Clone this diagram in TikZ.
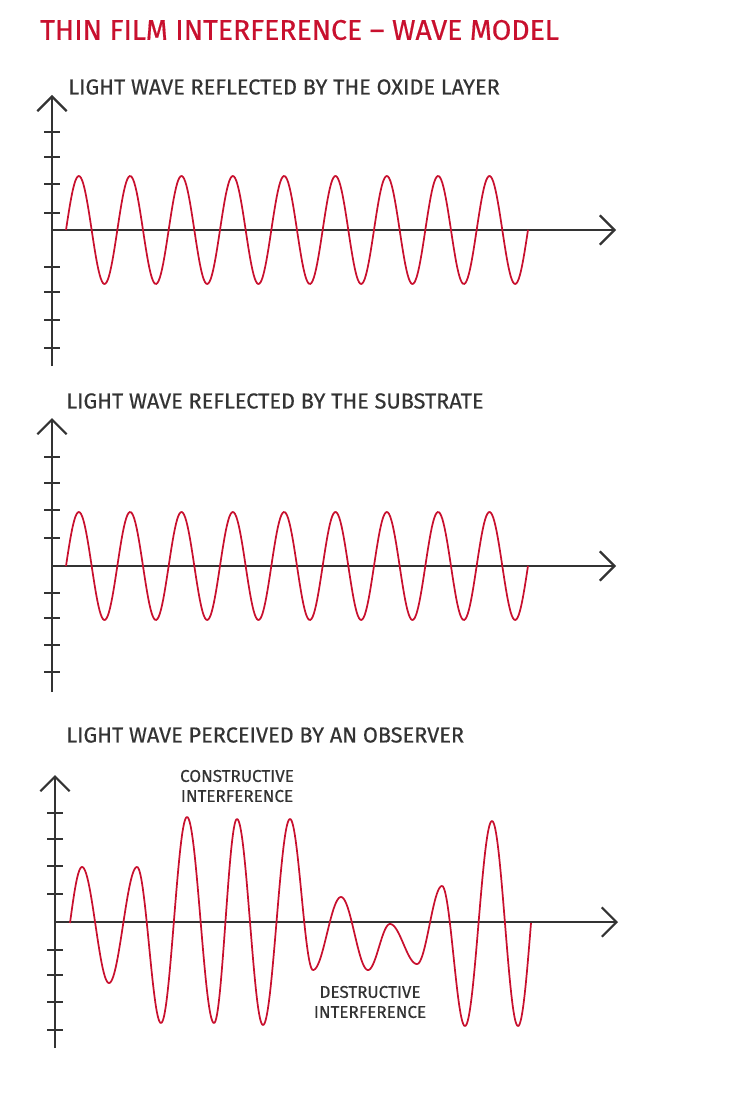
\documentclass[tikz,border=0pt]{standalone}
\usepackage{fontspec}
\setmainfont{Fira Sans}
\newfontfamily\medfont[FakeBold=0.5]{Fira Sans}
\usetikzlibrary{arrows.meta}
\definecolor{wred}{HTML}{C8102E}
\definecolor{ax}{HTML}{333333}
\begin{document}
\begin{tikzpicture}[x=0.75pt,y=-0.75pt,
  axis/.style={draw=ax,line width=1.6pt,-{Straight Barb[length=11pt,width=22pt,line width=1.6pt]}},
  tick/.style={draw=ax,line width=1.6pt},
  wave/.style={draw=wred,line width=1.3pt},
  sub/.style={anchor=west,text=ax,font=\medfont\fontsize{16.3}{18}\selectfont,inner sep=0pt},
  lab/.style={align=center,text=ax,font=\medfont\fontsize{12.8}{15}\selectfont,inner sep=0pt}]
\useasboundingbox (0,0) rectangle (754,1098);
\node[anchor=west,text=wred,font=\medfont\fontsize{21.3}{24}\selectfont,inner sep=0pt] (title) at (40,30) {THIN FILM INTERFERENCE – WAVE MODEL};
% panel 1
\node[sub] (t1) at (68,87) {LIGHT WAVE REFLECTED BY THE OXIDE LAYER};
\coordinate (o1) at (52,230);
\draw[axis] (52,366) -- (52,95);
\draw[axis] (o1) -- (616,230);
\foreach \y in {132,157,184,213,267,292,320,348} \draw[tick] (44,\y) -- (60,\y);
\draw[wave] plot[domain=0:462,samples=400] ({66+\x},{230-54*sin(\x*7.0134)});
% panel 2
\node[sub] (t2) at (66,401) {LIGHT WAVE REFLECTED BY THE SUBSTRATE};
\coordinate (o2) at (52,566);
\draw[axis] (52,692) -- (52,418);
\draw[axis] (o2) -- (616,566);
\foreach \y in {457,483,510,538,593,618,645,672} \draw[tick] (44,\y) -- (60,\y);
\draw[wave] plot[domain=0:462,samples=400] ({66+\x},{566-54*sin(\x*7.0134)});
% panel 3
\node[sub] (t3) at (66,735) {LIGHT WAVE PERCEIVED BY AN OBSERVER};
\coordinate (o3) at (55,922);
\draw[axis] (55,1048) -- (55,775);
\draw[axis] (o3) -- (618,922);
\foreach \y in {813,839,866,894,950,975,1002,1030} \draw[tick] (47,\y) -- (63,\y);
\draw[wave] plot[domain=0:90,samples=30] ({70+12*\x/90},{923-56*sin(\x)});
\foreach \xa/\ya/\xb/\yb in {82/867/109/983,109/983/137/867,137/867/161/1023,161/1023/187/817,187/817/214/1023,214/1023/237/819,237/819/263/1025,263/1025/290/819,290/819/313/970,313/970/341/897,341/897/368/970,368/970/390/924,390/924/417/964,417/964/442/886,442/886/465/1026,465/1026/492/821,492/821/518/1026}
  \draw[wave] plot[domain=0:180,samples=40] ({\xa+(\xb-\xa)*\x/180},{\ya+(\yb-\ya)*(1-cos(\x))/2});
\draw[wave] plot[domain=0:90,samples=30] ({518+13*\x/90},{1026-103*(1-cos(\x))});
\node[lab] (c) at (237,786) {CONSTRUCTIVE\\INTERFERENCE};
\node[lab] (d) at (370,1002) {DESTRUCTIVE\\INTERFERENCE};
\end{tikzpicture}
\end{document}
